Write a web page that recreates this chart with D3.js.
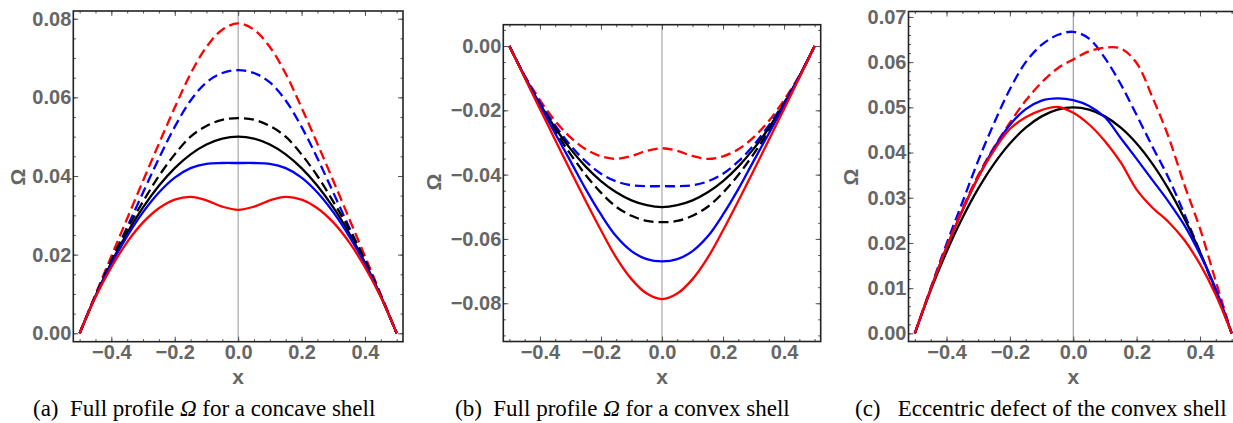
<!DOCTYPE html>
<html>
<head>
<meta charset="utf-8">
<script src="https://cdn.jsdelivr.net/npm/d3@7"></script>
<style>
  body { margin: 0; background: #fff; }
  .tick text { font-family: "Liberation Sans", Arial, sans-serif; font-weight: bold; font-size: 20px; fill: #666; }
  .cap { font-family: "Liberation Serif", "Times New Roman", serif; font-size: 23px; fill: #000; white-space: pre; }
  .lab { font-family: "Liberation Sans", Arial, sans-serif; font-weight: bold; font-size: 21px; fill: #666; }
</style>
</head>
<body>
<svg id="fig" width="1233" height="423"></svg>
<script>
// sample positions along the shell (same for every curve)
var xGrid = [-0.5, -0.45, -0.4, -0.35, -0.3, -0.25, -0.2, -0.15, -0.1, -0.05, 0,
             0.05, 0.1, 0.15, 0.2, 0.25, 0.3, 0.35, 0.4, 0.45, 0.5];

// (a) concave shell
var aRedDash   = [0, 0.0099, 0.0196, 0.0292, 0.0388, 0.0482, 0.0574, 0.0660, 0.0728, 0.0772, 0.0788,
                  0.0772, 0.0728, 0.0660, 0.0574, 0.0482, 0.0388, 0.0292, 0.0196, 0.0099, 0];
var aBlueDash  = [0, 0.0095, 0.0185, 0.0270, 0.0358, 0.0445, 0.0525, 0.0592, 0.0638, 0.0662, 0.0669,
                  0.0662, 0.0638, 0.0592, 0.0525, 0.0445, 0.0358, 0.0270, 0.0185, 0.0095, 0];
var aBlackDash = [0, 0.0096, 0.0186, 0.0265, 0.0335, 0.0400, 0.0455, 0.0500, 0.0527, 0.0543, 0.0547,
                  0.0543, 0.0527, 0.0500, 0.0455, 0.0400, 0.0335, 0.0265, 0.0186, 0.0096, 0];
var aBlack     = [0, 0.0095, 0.0180, 0.0255, 0.0320, 0.0375, 0.0420, 0.0455, 0.0480, 0.0495, 0.0500,
                  0.0495, 0.0480, 0.0455, 0.0420, 0.0375, 0.0320, 0.0255, 0.0180, 0.0095, 0];
var aBlue      = [0, 0.0094, 0.0176, 0.0247, 0.0308, 0.0358, 0.0396, 0.0420, 0.0431, 0.0433, 0.0433,
                  0.0433, 0.0431, 0.0420, 0.0396, 0.0358, 0.0308, 0.0247, 0.0176, 0.0094, 0];
var aRed       = [0, 0.0092, 0.0168, 0.0232, 0.0282, 0.0318, 0.0340, 0.0347, 0.0338, 0.0322, 0.0314,
                  0.0322, 0.0338, 0.0347, 0.0340, 0.0318, 0.0282, 0.0232, 0.0168, 0.0092, 0];

// (b) convex shell
var bRed       = [0, -0.0099, -0.0196, -0.0292, -0.0388, -0.0482, -0.0573, -0.0658, -0.0725, -0.0770, -0.0787,
                  -0.0770, -0.0725, -0.0658, -0.0573, -0.0482, -0.0388, -0.0292, -0.0196, -0.0099, 0];
var bBlue      = [0, -0.0095, -0.0185, -0.0272, -0.0358, -0.0445, -0.0524, -0.0592, -0.0638, -0.0663, -0.0670,
                  -0.0663, -0.0638, -0.0592, -0.0524, -0.0445, -0.0358, -0.0272, -0.0185, -0.0095, 0];
var bBlackDash = [0, -0.0096, -0.0186, -0.0265, -0.0336, -0.0401, -0.0456, -0.0500, -0.0528, -0.0544, -0.0548,
                  -0.0544, -0.0528, -0.0500, -0.0456, -0.0401, -0.0336, -0.0265, -0.0186, -0.0096, 0];
var bBlack     = [0, -0.0095, -0.0180, -0.0255, -0.0320, -0.0375, -0.0420, -0.0455, -0.0480, -0.0495, -0.0501,
                  -0.0495, -0.0480, -0.0455, -0.0420, -0.0375, -0.0320, -0.0255, -0.0180, -0.0095, 0];
var bBlueDash  = [0, -0.0094, -0.0176, -0.0247, -0.0309, -0.0359, -0.0397, -0.0421, -0.0433, -0.0436, -0.0436,
                  -0.0436, -0.0433, -0.0421, -0.0397, -0.0359, -0.0309, -0.0247, -0.0176, -0.0094, 0];
var bRedDash   = [0, -0.0092, -0.0168, -0.0233, -0.0284, -0.0321, -0.0343, -0.0351, -0.0342, -0.0326, -0.0318,
                  -0.0326, -0.0342, -0.0351, -0.0343, -0.0321, -0.0284, -0.0233, -0.0168, -0.0092, 0];

// (c) eccentric defect
var cBlueDash  = [0, 0.0100, 0.0198, 0.0290, 0.0382, 0.0465, 0.0540, 0.0600, 0.0638, 0.0660, 0.0667,
                  0.0652, 0.0609, 0.0551, 0.0483, 0.0413, 0.0345, 0.0265, 0.0180, 0.0092, 0];
var cRedDash   = [0, 0.0099, 0.0192, 0.0276, 0.0350, 0.0412, 0.0466, 0.0515, 0.0555, 0.0586, 0.0606,
                  0.0624, 0.0632, 0.0630, 0.0598, 0.0522, 0.0436, 0.0330, 0.0232, 0.0115, 0];
var cBlack     = [0, 0.0095, 0.0180, 0.0255, 0.0320, 0.0375, 0.0420, 0.0455, 0.0480, 0.0495, 0.0500,
                  0.0495, 0.0480, 0.0455, 0.0420, 0.0375, 0.0320, 0.0255, 0.0180, 0.0095, 0];
var cBlue      = [0, 0.0098, 0.0190, 0.0272, 0.0346, 0.0410, 0.0461, 0.0496, 0.0515, 0.0520, 0.0516,
                  0.0503, 0.0478, 0.0432, 0.0386, 0.0339, 0.0292, 0.0240, 0.0175, 0.0098, 0];
var cRed       = [0, 0.0098, 0.0190, 0.0272, 0.0345, 0.0405, 0.0452, 0.0478, 0.0494, 0.0501, 0.0488,
                  0.0462, 0.0425, 0.0378, 0.0318, 0.0278, 0.0247, 0.0207, 0.0153, 0.0085, 0];

// tick labels
var xTicks = [-0.4, -0.2, 0, 0.2, 0.4];
var aTicks = [0, 0.02, 0.04, 0.06, 0.08];
var bTicks = [-0.08, -0.06, -0.04, -0.02, 0];
var cTicks = [0, 0.01, 0.02, 0.03, 0.04, 0.05, 0.06, 0.07];

var svg = d3.select("#fig");

var panels = [
    { left: 73.3, right: 403, top: 11, bottom: 341.7, yDom: [-0.00214, 0.08196],
      yTicks: aTicks, yStep: 0.005, zero: "#999", zeroW: 1, omegaX: 18, omegaY: 177,
      caption: ["(a)  Full profile ", " for a concave shell"], capX: 33,
      series: [[aRedDash, "red", true], [aBlueDash, "blue", true], [aBlackDash, "black", true],
               [aBlack, "black", false], [aBlue, "blue", false], [aRed, "red", false]] },
    { left: 503.3, right: 820.7, top: 24.7, bottom: 341.5, yDom: [-0.0919, 0.00663],
      yTicks: bTicks, yStep: 0.005, zero: "#bbb", zeroW: 1.5, omegaX: 434, omegaY: 182,
      caption: ["(b)  Full profile ", " for a convex shell"], capX: 455,
      series: [[bRedDash, "red", true], [bBlueDash, "blue", true], [bBlackDash, "black", true],
               [bBlack, "black", false], [bBlue, "blue", false], [bRed, "red", false]] },
    { left: 908.5, right: 1238, top: 11.5, bottom: 341.5, yDom: [-0.0018, 0.0712],
      yTicks: cTicks, yStep: 0.002, zero: "#888", zeroW: 1, omegaX: 851, omegaY: 177,
      caption: ["(c)   Eccentric defect of the convex shell"], capX: 855,
      series: [[cBlueDash, "blue", true], [cRedDash, "red", true], [cBlack, "black", false],
               [cBlue, "blue", false], [cRed, "red", false]] }
];

panels.forEach(function (p) {
    var x = d3.scaleLinear().domain([-0.52, 0.52]).range([p.left, p.right]);
    var y = d3.scaleLinear().domain(p.yDom).range([p.bottom, p.top]);
    var g = svg.append("g");

    // vertical axis line at x = 0
    g.append("line")
        .attr("x1", x(0)).attr("x2", x(0))
        .attr("y1", p.top).attr("y2", p.bottom)
        .attr("stroke", p.zero).attr("stroke-width", p.zeroW);

    var line = d3.line()
        .x(function (d, i) { return x(xGrid[i]); })
        .y(function (d) { return y(d); })
        .curve(d3.curveCatmullRom.alpha(0.5));

    p.series.forEach(function (s) {
        g.append("path")
            .datum(s[0])
            .attr("d", line)
            .attr("fill", "none")
            .attr("stroke", s[1])
            .attr("stroke-width", 2.3)
            .attr("stroke-dasharray", s[2] ? "10,5" : null);
    });

    // minor tick values
    var xMinor = d3.range(-10, 11).map(function (k) { return k * 0.05; });
    var yMinor = d3.range(Math.ceil(p.yDom[0] / p.yStep), Math.floor(p.yDom[1] / p.yStep) + 1)
        .map(function (k) { return k * p.yStep; });

    function clean(sel) {
        sel.select(".domain").remove();
        sel.selectAll(".tick line").attr("stroke", "#555");
    }

    // bottom
    g.append("g").attr("transform", "translate(0," + p.bottom + ")")
        .call(d3.axisBottom(x).tickValues(xMinor).tickFormat("").tickSize(-2.5)).call(clean);
    g.append("g").attr("transform", "translate(0," + p.bottom + ")")
        .call(d3.axisBottom(x).tickValues(xTicks).tickFormat(d3.format(".1f")).tickSize(-5).tickPadding(3)).call(clean);
    // top
    g.append("g").attr("transform", "translate(0," + p.top + ")")
        .call(d3.axisTop(x).tickValues(xMinor).tickFormat("").tickSize(-2.5)).call(clean);
    g.append("g").attr("transform", "translate(0," + p.top + ")")
        .call(d3.axisTop(x).tickValues(xTicks).tickFormat("").tickSize(-5)).call(clean);
    // left
    g.append("g").attr("transform", "translate(" + p.left + ",0)")
        .call(d3.axisLeft(y).tickValues(yMinor).tickFormat("").tickSize(-2.5)).call(clean);
    g.append("g").attr("transform", "translate(" + p.left + ",0)")
        .call(d3.axisLeft(y).tickValues(p.yTicks).tickFormat(d3.format(".2f")).tickSize(-5).tickPadding(2)).call(clean);
    // right
    g.append("g").attr("transform", "translate(" + p.right + ",0)")
        .call(d3.axisRight(y).tickValues(yMinor).tickFormat("").tickSize(-2.5)).call(clean);
    g.append("g").attr("transform", "translate(" + p.right + ",0)")
        .call(d3.axisRight(y).tickValues(p.yTicks).tickFormat("").tickSize(-5)).call(clean);

    // frame
    g.append("rect")
        .attr("x", p.left).attr("y", p.top)
        .attr("width", p.right - p.left).attr("height", p.bottom - p.top)
        .attr("fill", "none").attr("stroke", "#222").attr("stroke-width", 1.6);

    // axis labels
    g.append("text").attr("class", "lab")
        .attr("x", x(0)).attr("y", 384)
        .attr("text-anchor", "middle").text("x");
    g.append("text").attr("class", "lab")
        .attr("transform", "translate(" + (p.omegaX + 7) + "," + p.omegaY + ") rotate(-90)")
        .attr("text-anchor", "middle").text("Ω");

    // caption
    var cap = g.append("text").attr("class", "cap").attr("x", p.capX).attr("y", 416);
    cap.append("tspan").text(p.caption[0]);
    if (p.caption.length > 1) {
        cap.append("tspan").attr("font-style", "italic").text("Ω");
        cap.append("tspan").text(p.caption[1]);
    }
});
</script>
</body>
</html>
